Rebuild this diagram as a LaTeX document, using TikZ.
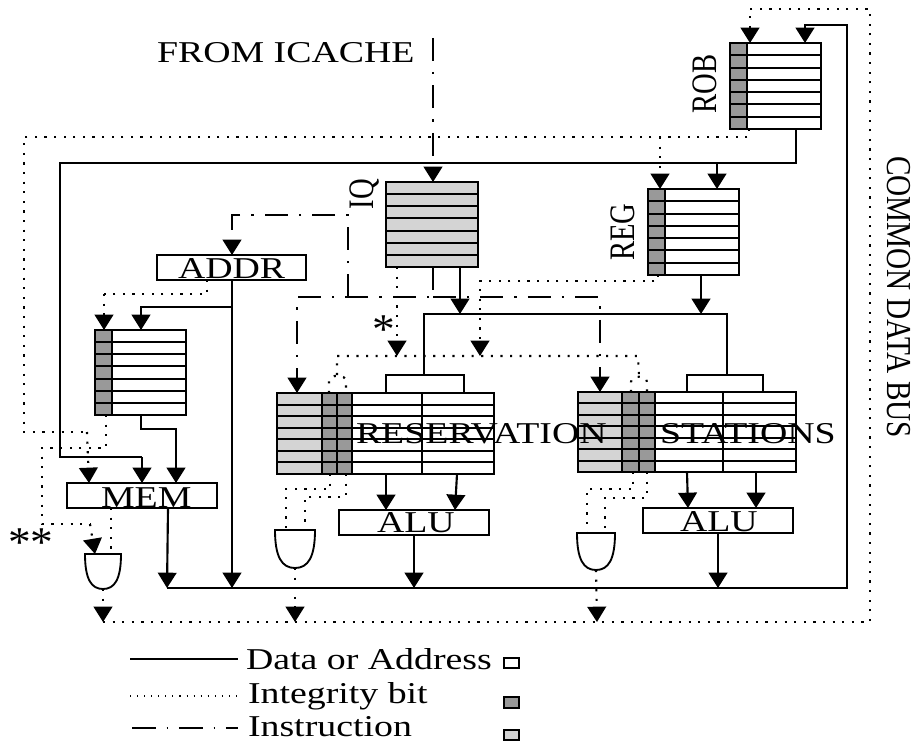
\documentclass[tikz,border=0pt]{standalone}
\usepackage{fontspec}
\setmainfont{Liberation Serif}
\usetikzlibrary{arrows.meta,fit,calc}
\definecolor{lightcell}{HTML}{D4D4D4}
\definecolor{darkcell}{HTML}{999999}
\tikzset{
  wire/.style={line width=1.6pt},
  dotw/.style={line width=1.6pt,dash pattern=on 1.6pt off 5.6pt},
  dashw/.style={line width=1.6pt,dash pattern=on 17pt off 8.5pt on 1.6pt off 8.5pt},
  tip/.style={-{Triangle[width=14pt,length=11.5pt]}},
  boxnode/.style={draw,line width=1.6pt,inner sep=0pt,outer sep=0pt},
  gatearea/.style={inner sep=0pt,outer sep=0pt},
  lab/.style={inner sep=0pt,outer sep=0pt,anchor=base west,font=\fontsize{22.7}{24}\selectfont},
  rotlab/.style={inner sep=0pt,outer sep=0pt,font=\fontsize{21.5}{24}\selectfont},
}
\newcommand{\rowlines}[1]{%
  \foreach \k in {1,...,6}
    \draw[line width=1.5pt] ($(#1.north west)!\k/7!(#1.south west)$) -- ($(#1.north east)!\k/7!(#1.south east)$);
}
\newcommand{\regfile}[7]{% name x1 y1 x2 y2 colx fill
  \fill[#7] (#2,#3) rectangle (#6,#5);
  \node[boxnode,fit={(#2,#3) (#4,#5)}] (#1) {};
  \rowlines{#1}
  \draw[line width=1.5pt] (#6,#3) -- (#6,#5);
}
\newcommand{\rstation}[9]{% name x1 y1 x2 y2 c1 c2 c3 mid
  \fill[lightcell] (#2,#3) rectangle (#6,#5);
  \fill[darkcell] (#6,#3) rectangle (#8,#5);
  \node[boxnode,fit={(#2,#3) (#4,#5)}] (#1) {};
  \rowlines{#1}
  \draw[line width=1.5pt] (#6,#3) -- (#6,#5) (#7,#3) -- (#7,#5) (#8,#3) -- (#8,#5) (#9,#3) -- (#9,#5);
}
\newcommand{\andgate}[5]{% name x1 y1 x2 y2
  \node[gatearea,fit={(#2,#3) (#4,#5)}] (#1) {};
  \draw[line width=1.4pt] (#1.south) .. controls ($(#1.south)!.65!(#1.south west)$) and ($(#1.north west)!.72!(#1.south west)$) .. (#1.north west)
     -- (#1.north east) .. controls ($(#1.north east)!.72!(#1.south east)$) and ($(#1.south)!.65!(#1.south east)$) .. (#1.south);
}
\newcommand{\hstretch}[1]{\scalebox{1.25}[1]{#1}}
\begin{document}
\begin{tikzpicture}[x=.75pt,y=-.75pt]
\useasboundingbox (0,0) rectangle (917,742);

% storage
\regfile{rob}{730}{43}{821}{129}{747}{darkcell}
\regfile{reg}{648}{189}{739}{275}{665}{darkcell}
\regfile{iq}{386}{182}{478}{267}{478}{lightcell}
\regfile{lsq}{95}{330}{186}{415}{112}{darkcell}
\rstation{rsa}{277}{393}{494}{474}{322}{337}{352}{422}
\rstation{rsb}{578}{392}{796}{472}{622}{639}{655}{723}
\node[boxnode,fit={(386,375) (464,393)}] (taba) {};
\node[boxnode,fit={(687,375) (763,392)}] (tabb) {};
\node[boxnode,fit={(157,255) (306,280)}] (addr) {};
\node[boxnode,fit={(67,483) (217,508)}] (mem) {};
\node[boxnode,fit={(339,510) (489,535)}] (alua) {};
\node[boxnode,fit={(643,508) (793,533)}] (alub) {};
\andgate{ga}{85}{554}{121}{589}
\andgate{gb}{275}{530}{315}{568}
\andgate{gc}{577}{533}{615}{570}

% junction and free-end coordinates
\coordinate (busleft) at (167,588);
\coordinate (busright) at (847,588);
\coordinate (busaddr) at (232,588);
\coordinate (busalua) at (414,588);
\coordinate (busalub) at (718,588);
\coordinate (ibusleft) at (103,622);
\coordinate (ibusright) at (870,622);
\coordinate (ibusb) at (295,622);
\coordinate (ibusc) at (597,622);
\coordinate (icache) at (433,38);
\coordinate (opbus) at (424,314);
\coordinate (opmid) at (460,314);
\coordinate (opregin) at (701,314);
\coordinate (opright) at (727,314);
\coordinate (robj) at (717,163);
\coordinate (robdot) at (660,137);
\coordinate (addrj) at (232,307);
\coordinate (instj) at (348,297);
\coordinate (tagl) at (397,356);
\coordinate (tagr) at (480,356);
\coordinate (loopa) at (337,375);
\coordinate (loopb) at (639,376);

% data wires
\draw[wire,tip] (busleft) -- (busright) -- (847,25) -- (805,25) -- (805,0 |- rob.north);
\draw[wire] (796,0 |- rob.south) -- (796,163) -- (60,163) -- (60,457) -- (142,457);
\draw[wire,tip] (142,457) -- (142,0 |- mem.north);
\draw[wire,tip] (robj) -- (717,0 |- reg.north);
\draw[wire,tip] (701,0 |- reg.south) -- (opregin);
\draw[wire,tip] (460,0 |- iq.south) -- (opmid);
\draw[wire] (424,0 |- taba.north) -- (opbus) -- (opright) -- (727,0 |- tabb.north);
\draw[wire,tip] (141,0 |- lsq.south) -- (141,429) -- (176,429) -- (176,0 |- mem.north);
\draw[wire,tip] (168,0 |- mem.south) -- (busleft);
\draw[wire,tip] (232,0 |- addr.south) -- (busaddr);
\draw[wire,tip] (addrj) -- (141,307) -- (141,0 |- lsq.north);
\draw[wire,tip] (386,0 |- rsa.south) -- (386,0 |- alua.north);
\draw[wire,tip] (457,0 |- rsa.south) -- (455,0 |- alua.north);
\draw[wire,tip] (687,0 |- rsb.south) -- (688,0 |- alub.north);
\draw[wire,tip] (756,0 |- rsb.south) -- (756,0 |- alub.north);
\draw[wire,tip] (414,0 |- alua.south) -- (busalua);
\draw[wire,tip] (718,0 |- alub.south) -- (busalub);

% integrity wires
\draw[dotw,tip] (ibusleft) -- (ibusright) -- (870,9) -- (750,9) -- (750,0 |- rob.north);
\draw[dotw] (749,0 |- rob.south) -- (749,137) -- (24,137) -- (24,432) -- (87,432);
\draw[dotw,tip] (87,432) -- (89,0 |- mem.north);
\draw[dotw,tip] (robdot) -- (660,0 |- reg.north);
\draw[dotw,tip] (658,0 |- reg.south) -- (658,281) -- (480,281) -- (tagr);
\draw[dotw,tip] (397,0 |- iq.south) -- (tagl);
\draw[dotw] (loopa) -- (337,356) -- (638,356) -- (loopb);
\draw[dotw] (329,0 |- rsa.north) -- (329,381) .. controls (329,374) and (346,374) .. (346,381) -- (346,0 |- rsa.north);
\draw[dotw] (631,0 |- rsb.north) -- (631,382) .. controls (631,375) and (647,375) .. (647,382) -- (647,0 |- rsb.north);
\draw[dotw] (207,0 |- addr.south) -- (207,294) -- (104,294);
\draw[dotw,tip] (104,294) -- (104,0 |- lsq.north);
\draw[dotw] (106,0 |- lsq.south) -- (106,448) -- (42,448) -- (42,524) -- (90,524);
\draw[dotw,tip] (90,524) -- (95,0 |- ga.north);
\draw[dotw] (111,0 |- mem.south) -- (111,0 |- ga.north);
\draw[dotw] (330,0 |- rsa.south) -- (330,489) -- (286,489) -- (286,0 |- gb.north);
\draw[dotw] (346,0 |- rsa.south) -- (346,497) -- (305,497) -- (305,0 |- gb.north);
\draw[dotw] (633,0 |- rsb.south) -- (633,489) -- (587,489) -- (587,0 |- gc.north);
\draw[dotw] (647,0 |- rsb.south) -- (647,498) -- (605,498) -- (605,0 |- gc.north);
\draw[dotw,tip] (ga.south) -- (ibusleft);
\draw[dotw,tip] (gb.south) -- (ibusb);
\draw[dotw,tip] (gc.south) -- (ibusc);

% instruction wires
\draw[dashw,tip] (icache) -- (433,0 |- iq.north);
\draw[dashw,tip] (433,0 |- iq.south) -- (433,297) -- (297,297) -- (297,0 |- rsa.north);
\draw[dashw,tip] (433,297) -- (600,297) -- (600,0 |- rsb.north);
\draw[dashw,tip] (instj) -- (348,215) -- (232,215) -- (232,0 |- addr.north);

% labels
\node[lab] (lfrom) at (157,63) {\hstretch{FROM ICACHE}};
\node[lab] (laddr) at (178,278) {\hstretch{ADDR}};
\node[lab] (lmem) at (101,507) {\hstretch{MEM}};
\node[lab] (lalua) at (377,532) {\hstretch{ALU}};
\node[lab] (lalub) at (680,531) {\hstretch{ALU}};
\node[lab] (lres) at (356,443) {\hstretch{RESERVATION}};
\node[lab] (lsta) at (660,443) {\hstretch{STATIONS}};
\node[rotlab] (lrob) at (705,84) {\hstretch{\rotatebox{90}{ROB}}};
\node[rotlab] (lreg) at (623,232) {\hstretch{\rotatebox{90}{REG}}};
\node[rotlab] (liq) at (365,194) {\hstretch{\rotatebox{90}{IQ}}};
\node[rotlab] (lcdb) at (899,297) {\scalebox{1.22}[1.02]{\rotatebox{-90}{COMMON DATA BUS}}};
\node[lab] (lstar) at (372,343) {\scalebox{1.5}[1.4]{*}};
\node[lab] (lstars) at (8,556) {\scalebox{1.5}[1.4]{**}};

% legend
\coordinate (lega) at (130,659);
\coordinate (legb) at (238,659);
\coordinate (legc) at (130,696);
\coordinate (legd) at (238,696);
\coordinate (lege) at (132,728);
\coordinate (legf) at (238,728);
\draw[line width=1.3pt] (lega) -- (legb);
\draw[line width=.8pt,dash pattern=on .8pt off 4.5pt] (legc) -- (legd);
\draw[line width=1.3pt,dash pattern=on 18pt off 8pt on 1.2pt off 8pt] (lege) -- (legf);
\node[lab] (ta) at (246,669) {\hstretch{Data or Address}};
\node[lab] (tb) at (248,703) {\hstretch{Integrity bit}};
\node[lab] (tc) at (248,736) {\hstretch{Instruction}};
\node[boxnode,line width=1.3pt,fit={(504,658) (519,668)}] (swa) {};
\node[boxnode,line width=1.3pt,fill=darkcell,fit={(504,697) (519,708)}] (swb) {};
\node[boxnode,line width=1.3pt,fill=lightcell,fit={(504,730) (519,740)}] (swc) {};
\end{tikzpicture}
\end{document}
